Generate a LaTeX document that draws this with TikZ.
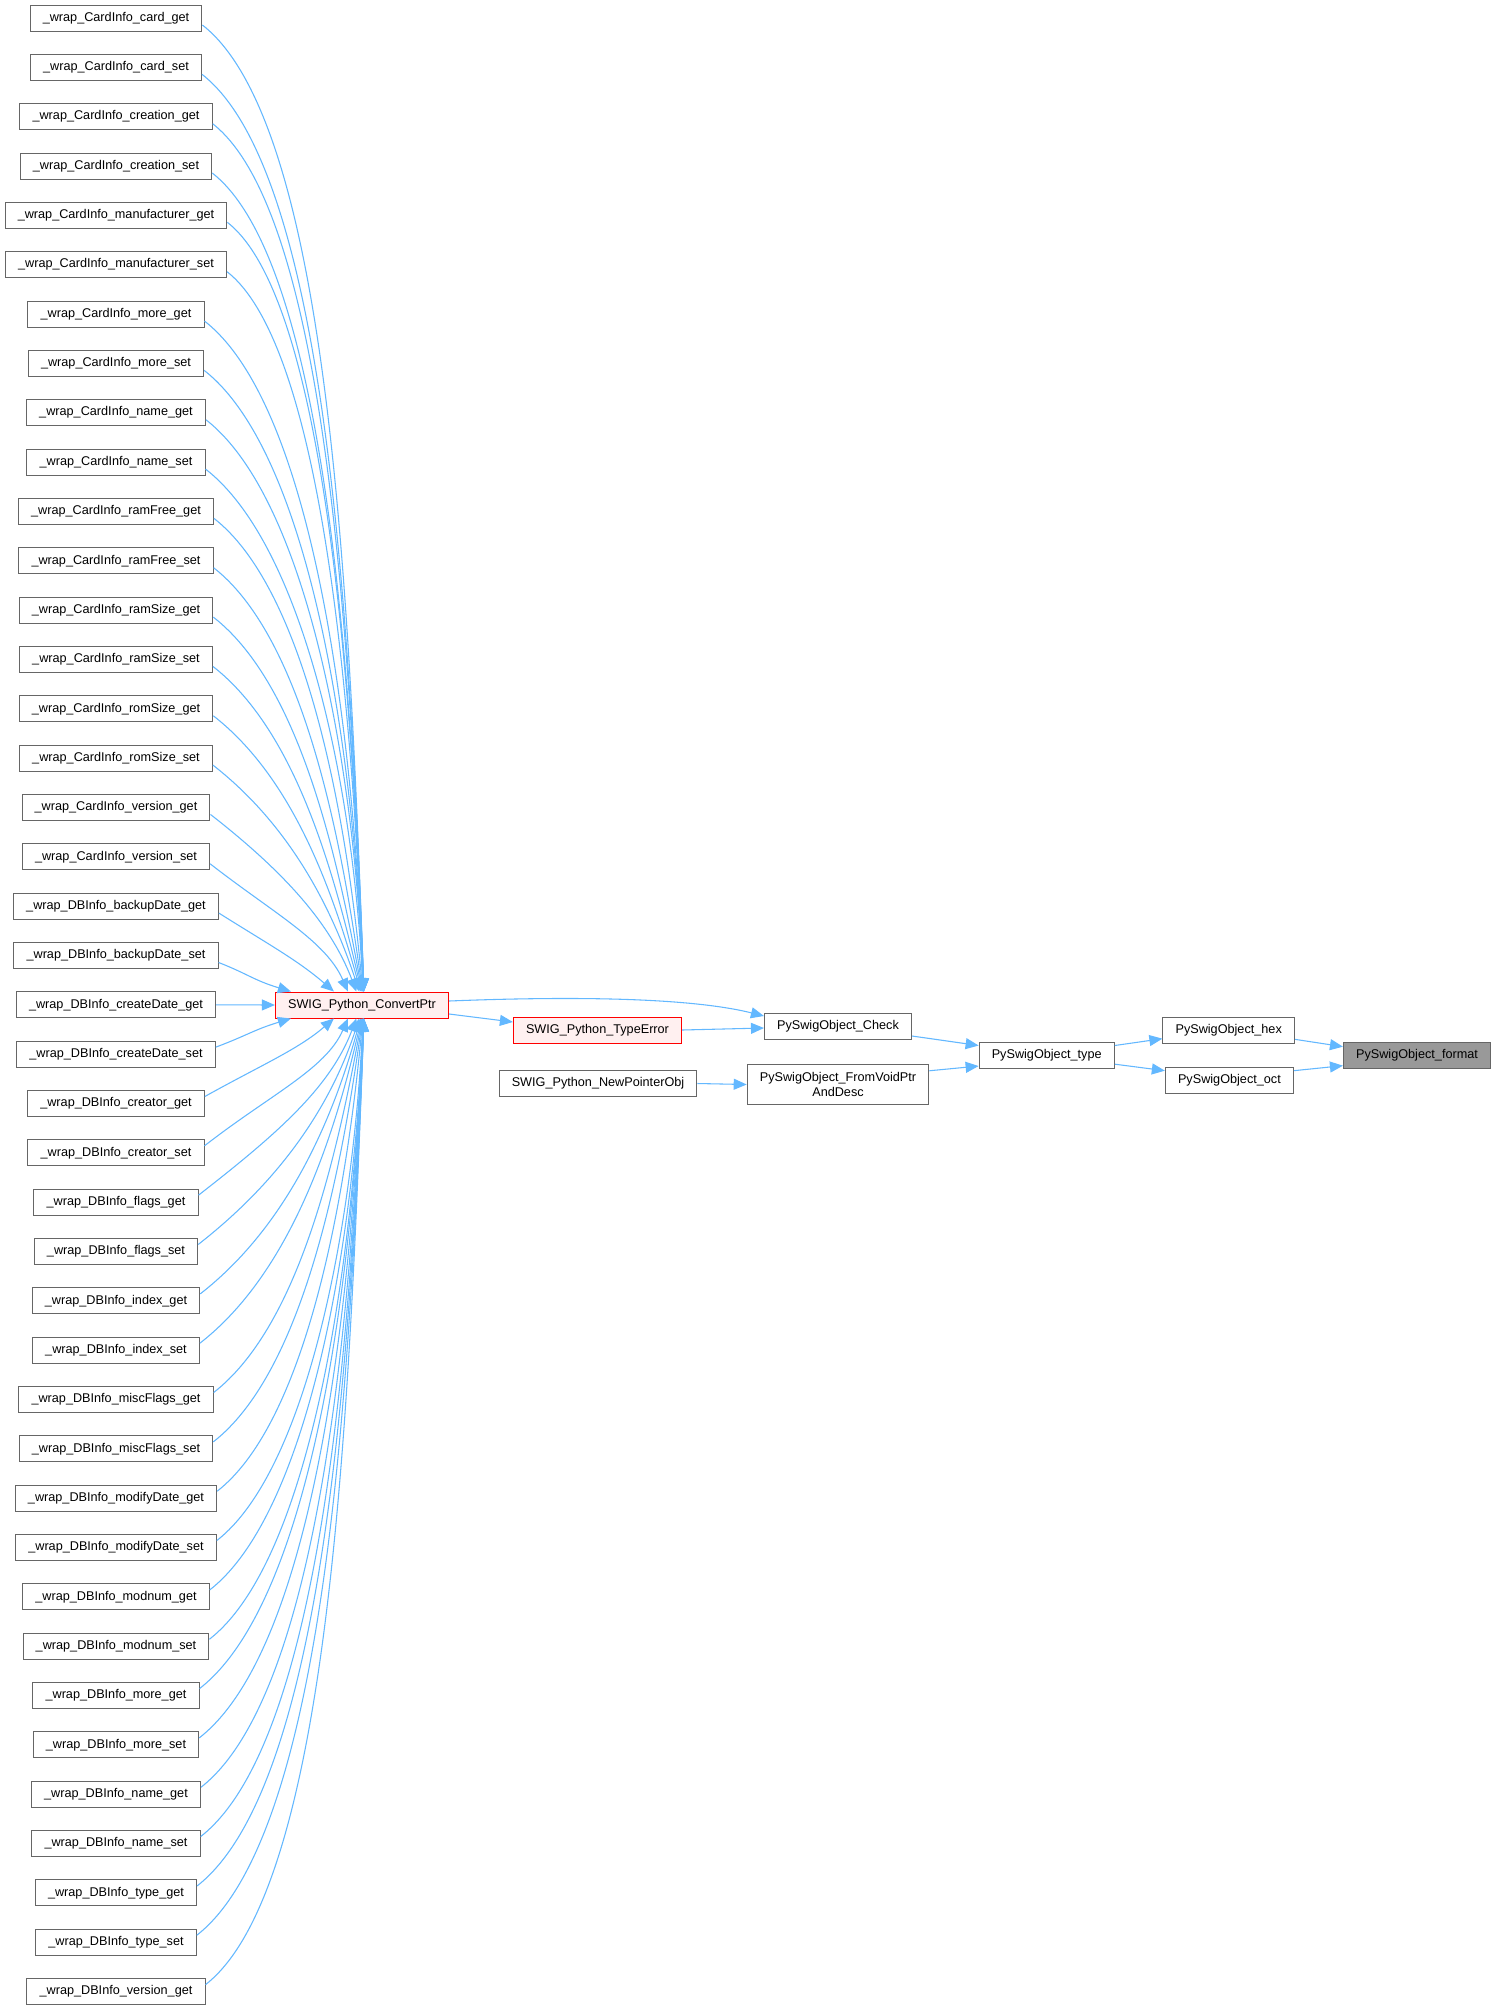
\documentclass[tikz,border=0pt]{standalone}
\usepackage{fontspec}
\setmainfont{Liberation Sans}
\usetikzlibrary{arrows.meta}
\definecolor{edgec}{HTML}{63B8FF}
\definecolor{nbord}{HTML}{666666}
\definecolor{hlfill}{HTML}{999999}
\definecolor{redfill}{HTML}{FFF0F0}
\definecolor{redbord}{HTML}{FF0000}
\newdimen\mydx
\begin{document}
\begin{tikzpicture}[x=0.75pt,y=-0.75pt,
  font=\fontsize{9.5pt}{11.5pt}\selectfont,
  box/.style={draw=nbord, fill=white, line width=0.75pt, inner xsep=9.5pt, inner ysep=0pt,
    minimum height=19.5pt, text height=6.9pt, text depth=2pt},
  redbox/.style={box, draw=redbord, fill=redfill},
  hlbox/.style={box, fill=hlfill},
  twobox/.style={draw=nbord, fill=white, line width=0.75pt, inner xsep=9.5pt, inner ysep=0pt,
    minimum height=30.5pt, align=center},
  edge/.style={draw=edgec, line width=0.8pt, -{Triangle[length=9.75pt,width=8.25pt]}}]
\fill[white] (0,0) rectangle (1497,2010);
\useasboundingbox (0,0) rectangle (1497,2010);

% left callers
\foreach \t [count=\i from 0] in {
\_wrap\_CardInfo\_card\_get,
\_wrap\_CardInfo\_card\_set,
\_wrap\_CardInfo\_creation\_get,
\_wrap\_CardInfo\_creation\_set,
\_wrap\_CardInfo\_manufacturer\_get,
\_wrap\_CardInfo\_manufacturer\_set,
\_wrap\_CardInfo\_more\_get,
\_wrap\_CardInfo\_more\_set,
\_wrap\_CardInfo\_name\_get,
\_wrap\_CardInfo\_name\_set,
\_wrap\_CardInfo\_ramFree\_get,
\_wrap\_CardInfo\_ramFree\_set,
\_wrap\_CardInfo\_ramSize\_get,
\_wrap\_CardInfo\_ramSize\_set,
\_wrap\_CardInfo\_romSize\_get,
\_wrap\_CardInfo\_romSize\_set,
\_wrap\_CardInfo\_version\_get,
\_wrap\_CardInfo\_version\_set,
\_wrap\_DBInfo\_backupDate\_get,
\_wrap\_DBInfo\_backupDate\_set,
\_wrap\_DBInfo\_createDate\_get,
\_wrap\_DBInfo\_createDate\_set,
\_wrap\_DBInfo\_creator\_get,
\_wrap\_DBInfo\_creator\_set,
\_wrap\_DBInfo\_flags\_get,
\_wrap\_DBInfo\_flags\_set,
\_wrap\_DBInfo\_index\_get,
\_wrap\_DBInfo\_index\_set,
\_wrap\_DBInfo\_miscFlags\_get,
\_wrap\_DBInfo\_miscFlags\_set,
\_wrap\_DBInfo\_modifyDate\_get,
\_wrap\_DBInfo\_modifyDate\_set,
\_wrap\_DBInfo\_modnum\_get,
\_wrap\_DBInfo\_modnum\_set,
\_wrap\_DBInfo\_more\_get,
\_wrap\_DBInfo\_more\_set,
\_wrap\_DBInfo\_name\_get,
\_wrap\_DBInfo\_name\_set,
\_wrap\_DBInfo\_type\_get,
\_wrap\_DBInfo\_type\_set,
\_wrap\_DBInfo\_version\_get}
  \node[box] (l\i) at (116,{18+\i*49.34}) {\t};

% right part
\node[redbox] (cp) at (362,1005) {SWIG\_Python\_ConvertPtr};
\node[redbox] (te) at (597.5,1030) {SWIG\_Python\_TypeError};
\node[box] (np) at (598,1083.5) {SWIG\_Python\_NewPointerObj};
\node[box] (ck) at (838,1026) {PySwigObject\_Check};
\node[twobox] (fv) at (838,1084.5) {PySwigObject\_FromVoidPtr\\AndDesc};
\node[box] (ty) at (1046.7,1055.5) {PySwigObject\_type};
\node[box] (hx) at (1228.7,1030) {PySwigObject\_hex};
\node[box] (oc) at (1229.4,1080) {PySwigObject\_oct};
\node[hlbox] (fm) at (1417,1055) {PySwigObject\_format};

% caller curves into ConvertPtr
\foreach \i in {0,...,40}{
  \pgfmathtruncatemacro\k{abs(\i-20)}
  \ifnum\k=0
    \draw[edge] (l\i.east) -- (cp.west);
  \else
    \pgfextractx{\mydx}{\pgfpointanchor{l\i}{east}}
    \pgfmathsetmacro\sx{\mydx/0.75}
    \pgfmathsetmacro\sg{\i<20 ? 1 : -1}
    \pgfmathsetmacro\sy{18+\i*49.34+7*\sg}
    \pgfmathsetmacro\ys{-5.25*\sg}
    \pgfmathsetmacro\ex{\k==1 ? 290 : (\k==2 ? 333 : 364-17/max(\k-2,1))}
    \pgfmathsetmacro\xo{(\ex-274)*0.75}
    \pgfmathsetmacro\ey{\i<20 ? 992 : 1018}
    \pgfmathsetmacro\ddx{\ex-\sx}
    \pgfmathsetmacro\ddy{abs(\ey-\sy)}
    \pgfmathsetmacro\al{0.4+0.02*\k}
    \pgfmathsetmacro\th{\k==1 ? 18 : (\k==2 ? 42 : min(88, 60+2.5*\k))}
    \pgfmathsetmacro\cax{\sx+\al*\ddx}
    \pgfmathsetmacro\cay{\sy+\sg*min(\al*\ddx*0.78, 0.4*\ddy)}
    \pgfmathsetmacro\cbx{\ex-0.4*\ddy/tan(\th)}
    \pgfmathsetmacro\cby{\ey-\sg*0.4*\ddy}
    \ifnum\i<20
      \draw[edge] ([yshift=\ys pt]l\i.east) .. controls (\cax,\cay) and (\cbx,\cby) .. ([xshift=\xo pt]cp.north west);
    \else
      \draw[edge] ([yshift=\ys pt]l\i.east) .. controls (\cax,\cay) and (\cbx,\cby) .. ([xshift=\xo pt]cp.south west);
    \fi
  \fi
}

% other connectors
\draw[edge] ([yshift=3pt]cp.east) .. controls (600,995) and (700,1000) .. ([yshift=7.5pt]ck.west);
\draw[edge] ([yshift=-6.75pt]cp.east) -- ([yshift=6pt]te.west);
\draw[edge] (te.east) -- ([yshift=-1.5pt]ck.west);
\draw[edge] (np.east) -- (fv.west);
\draw[edge] ([yshift=-7.5pt]ck.east) -- ([yshift=7.5pt]ty.west);
\draw[edge] ([yshift=10.3pt]fv.east) -- ([yshift=-7.9pt]ty.west);
\draw[edge] ([yshift=7.5pt]ty.east) -- ([yshift=-6.5pt]hx.west);
\draw[edge] ([yshift=-6.5pt]ty.east) -- ([yshift=7pt]oc.west);
\draw[edge] ([yshift=-7pt]hx.east) -- ([yshift=6.25pt]fm.west);
\draw[edge] ([yshift=7pt]oc.east) -- ([yshift=-8pt]fm.west);
\end{tikzpicture}
\end{document}
